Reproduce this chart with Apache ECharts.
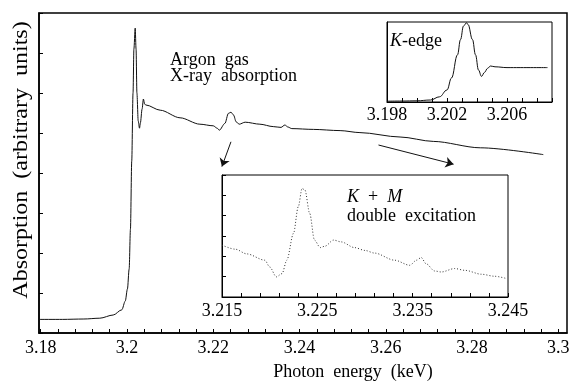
<!DOCTYPE html>
<html>
<head>
<meta charset="utf-8">
<script src="https://cdn.jsdelivr.net/npm/echarts@6/dist/echarts.min.js"></script>
<style>
  html, body { margin: 0; padding: 0; background: #fff; }
  #chart { width: 578px; height: 385px; }
</style>
</head>
<body>
<div id="chart"></div>
<script>
// main spectrum: photon energy (keV) / absorption (arbitrary units)
const mainEnergy = [3.1797, 3.185, 3.19, 3.1937, 3.1968, 3.1988, 3.1996, 3.2001, 3.2005, 3.2008, 3.2011, 3.2014, 3.2016, 3.2019,
  3.2021, 3.2023, 3.2026, 3.2029, 3.2031, 3.2035, 3.2038, 3.2041, 3.2044, 3.2077, 3.2123, 3.2169, 3.2200, 3.2209, 3.2214,
  3.2227, 3.2235, 3.2241, 3.2247, 3.2253, 3.2260, 3.2274, 3.2308, 3.2339, 3.2357, 3.2366, 3.2373, 3.2382, 3.2432, 3.2494,
  3.2540, 3.2633, 3.2710, 3.2819, 3.2965]
const mainAbs = [0.34, 0.34, 0.35, 0.37, 0.45, 0.58, 0.8, 1.1, 1.6, 2.6, 4.3, 6.0, 7.1, 7.62,
  7.1, 6.0, 5.3, 5.12, 5.25, 5.6, 5.85, 5.72, 5.7, 5.57, 5.38, 5.22, 5.18, 5.12, 5.07,
  5.24, 5.49, 5.52, 5.45, 5.28, 5.22, 5.27, 5.22, 5.16, 5.14, 5.2, 5.15, 5.11, 5.09, 5.06,
  5.01, 4.9, 4.79, 4.63, 4.46]
const mainLabels = ['3.18', '3.2', '3.22', '3.24', '3.26', '3.28', '3.3']

// inset 1: K-edge
const edgeEnergy = [3.198, 3.199, 3.2000, 3.2009, 3.2015, 3.2020, 3.2023, 3.2027, 3.2029, 3.2031, 3.2033, 3.2034,
  3.2037, 3.2039, 3.2041, 3.2043, 3.2045, 3.2047, 3.2049, 3.2052, 3.2060, 3.2087]
const edgeAbs = [0.01, 0.012, 0.015, 0.025, 0.065, 0.15, 0.3, 0.59, 0.78, 0.95, 0.99, 0.97,
  0.78, 0.59, 0.4, 0.32, 0.37, 0.42, 0.45, 0.44, 0.43, 0.43]
const edgeLabels = ['3.198', '3.202', '3.206']

// inset 2: K + M double excitation
const kmEnergy = [3.2150, 3.2164, 3.2176, 3.2195, 3.2200, 3.2207, 3.2213, 3.2218, 3.2225, 3.2230, 3.2234, 3.2237,
  3.2242, 3.2247, 3.2253, 3.2258, 3.2267, 3.2275, 3.2289, 3.2300, 3.2310, 3.2331, 3.2347, 3.2354, 3.2359, 3.2364,
  3.2373, 3.2380, 3.2394, 3.2405, 3.2422, 3.2436, 3.2449]
const kmAbs = [2.55, 2.35, 2.12, 1.81, 1.48, 0.99, 1.15, 1.81, 3.13, 4.44, 5.34, 5.26,
  4.11, 2.80, 2.43, 2.50, 2.80, 2.71, 2.43, 2.29, 2.16, 1.81, 1.56, 1.81, 1.94, 1.64,
  1.28, 1.23, 1.40, 1.31, 1.12, 1.02, 0.90]
const kmLabels = ['3.215', '3.225', '3.235', '3.245']

// arrows pointing from the main curve to the inset [from, to]
const arrows = [
  [[3.2241, 4.78], [3.2220, 4.16]],
  [[3.2583, 4.70], [3.2757, 4.22]]
]

const serif = "'Times New Roman', 'Liberation Serif', serif"
const zip = (xs, ys) => xs.map((x, i) => [x, ys[i]])

let mainTickValues = []
for (let i = 0; i <= 30; i++) mainTickValues.push(+(3.18 + i * 0.004).toFixed(3))

const pick = labels => v => {
  let s = v.toFixed(3)
  return labels.indexOf(s) >= 0 ? s : ''
}

let chart = echarts.init(document.getElementById('chart'))
let option = {
  animation: false,
  textStyle: { fontFamily: serif },
  grid: [
    { left: 39, top: 13, width: 528, height: 320, show: true, borderColor: '#000', borderWidth: 1.5, backgroundColor: '#fff' },
    { left: 387, top: 22, width: 165, height: 80, show: true, borderColor: '#000', borderWidth: 1, backgroundColor: '#fff' },
    { left: 222, top: 175, width: 286, height: 122, show: true, borderColor: '#000', borderWidth: 1, backgroundColor: '#fff' }
  ],
  xAxis: [
    {
      gridIndex: 0, type: 'value', min: 3.1796, max: 3.302,
      axisLine: { lineStyle: { color: '#000', width: 1.5 } },
      axisTick: { inside: true, length: 4, customValues: mainTickValues, lineStyle: { color: '#000' } },
      axisLabel: {
        customValues: mainLabels.map(Number),
        formatter: v => String(parseFloat(v.toFixed(3))),
        color: '#000', fontFamily: serif, fontSize: 18, margin: 6
      },
      splitLine: { show: false }
    },
    {
      gridIndex: 1, type: 'value', min: 3.198, max: 3.209, interval: 0.001,
      axisLine: { lineStyle: { color: '#000' } },
      axisTick: { inside: true, length: 4, lineStyle: { color: '#000' } },
      axisLabel: { formatter: pick(edgeLabels), color: '#000', fontFamily: serif, fontSize: 18, margin: 4 },
      splitLine: { show: false }
    },
    {
      gridIndex: 2, type: 'value', min: 3.215, max: 3.245, interval: 0.002,
      axisLine: { lineStyle: { color: '#000' } },
      axisTick: { inside: true, length: 4, lineStyle: { color: '#000' } },
      axisLabel: { formatter: pick(kmLabels), color: '#000', fontFamily: serif, fontSize: 18, margin: 5 },
      splitLine: { show: false }
    }
  ],
  yAxis: [
    {
      gridIndex: 0, type: 'value', min: 0, max: 8, interval: 1,
      axisLine: { show: true, lineStyle: { color: '#000', width: 1.5 } },
      axisTick: { show: true, inside: true, length: 4, lineStyle: { color: '#000' } },
      axisLabel: { show: false },
      splitLine: { show: false }
    },
    {
      gridIndex: 1, type: 'value', min: 0, max: 1,
      axisLine: { show: true, lineStyle: { color: '#000' } },
      axisTick: { show: false },
      axisLabel: { show: false },
      splitLine: { show: false }
    },
    {
      gridIndex: 2, type: 'value', min: 0, max: 6, interval: 1,
      axisLine: { show: true, lineStyle: { color: '#000' } },
      axisTick: { show: true, inside: true, length: 4, lineStyle: { color: '#000' } },
      axisLabel: { show: false },
      splitLine: { show: false }
    }
  ],
  series: [
    {
      type: 'line', xAxisIndex: 0, yAxisIndex: 0,
      data: zip(mainEnergy, mainAbs),
      showSymbol: false, smooth: 0.3, smoothMonotone: 'x',
      lineStyle: { color: '#111', width: 1 },
      markLine: {
        silent: true,
        symbol: ['none', 'arrow'],
        symbolSize: 8,
        label: { show: false },
        lineStyle: { color: '#111', width: 1, type: 'solid' },
        data: arrows.map(a => [{ coord: a[0] }, { coord: a[1] }])
      }
    },
    {
      type: 'line', xAxisIndex: 1, yAxisIndex: 1,
      data: zip(edgeEnergy, edgeAbs),
      showSymbol: false, smooth: 0.4, smoothMonotone: 'x',
      lineStyle: { color: '#111', width: 1 }
    },
    {
      type: 'line', xAxisIndex: 2, yAxisIndex: 2,
      data: zip(kmEnergy, kmAbs),
      showSymbol: false, smooth: 0.3, smoothMonotone: 'x',
      lineStyle: { color: '#333', width: 1, type: [1, 2] }
    }
  ],
  graphic: [
    { type: 'text', x: 170, y: 60, style: { text: 'Argon  gas', font: '18px ' + serif, fill: '#000', align: 'left', verticalAlign: 'middle' } },
    { type: 'text', x: 170, y: 76, style: { text: 'X-ray  absorption', font: '18px ' + serif, fill: '#000', align: 'left', verticalAlign: 'middle' } },
    {
      type: 'text', x: 390, y: 41, z: 10,
      style: {
        text: '{i|K}{r|-edge}', align: 'left', verticalAlign: 'middle',
        rich: { i: { font: 'italic 18px ' + serif, fill: '#000' }, r: { font: '18px ' + serif, fill: '#000' } }
      }
    },
    {
      type: 'text', x: 347, y: 197, z: 10,
      style: {
        text: '{i|K}{r|  +  }{i|M}', align: 'left', verticalAlign: 'middle',
        rich: { i: { font: 'italic 18px ' + serif, fill: '#000' }, r: { font: '18px ' + serif, fill: '#000' } }
      }
    },
    { type: 'text', x: 347, y: 216, z: 10, style: { text: 'double  excitation', font: '18px ' + serif, fill: '#000', align: 'left', verticalAlign: 'middle' } },
    { type: 'text', x: 353, y: 372, style: { text: 'Photon  energy  (keV)', font: '18px ' + serif, fill: '#000', align: 'center', verticalAlign: 'middle' } },
    {
      type: 'text', x: 22, y: 160, rotation: Math.PI / 2, scaleX: 1.2,
      style: { text: 'Absorption  (arbitrary  units)', font: '20px ' + serif, fill: '#000', align: 'center', verticalAlign: 'middle' }
    }
  ]
}
chart.setOption(option)
</script>
</body>
</html>
